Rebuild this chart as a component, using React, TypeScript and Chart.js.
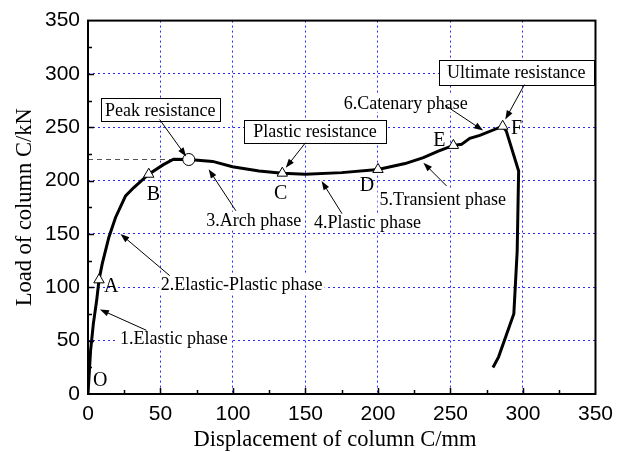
import { useEffect, useRef } from "react";
import { Chart, registerables } from "chart.js";

Chart.register(...registerables);

// Load–displacement response of column C (displacement in mm, load in kN)
const displacement = [
  0, 1.8, 3.7, 6, 7.6, 9.8, 14.4, 19, 25.9, 31.6, 41.9, 52, 59, 69.5, 86, 99.6, 118, 134, 150, 175, 200,
  218.7, 231.3, 241.6, 252, 257.6, 263.3, 270.2, 286, 288.5, 297, 296, 293.7, 283.2, 279.3,
];
const load = [
  0, 41, 66, 88, 107, 122, 147, 165.5, 185.7, 193.5, 206, 215, 220, 219.8, 218, 213, 209, 207, 206, 207.5, 210.5,
  216, 221.5, 227.7, 233, 234, 239.6, 242.4, 251, 246.4, 209, 134, 75.3, 34.8, 24.9,
];

// Characteristic points A–F and the peak
const keyNames = ["A", "B", "C", "D", "E", "F"];
const keyDisp = [7.6, 41.9, 134, 200, 252, 286];
const keyLoad = [107, 206, 207, 210.5, 233, 251];
const peakDisp = 69.5;
const peakLoad = 219.8;

// Axis ticks
const axisMin = 0;
const axisMax = 350;
const majorStep = 50;
const minorStep = 25;

const SERIF = "'Liberation Serif', 'Times New Roman', serif";
const SANS = "'Liberation Sans', Arial, sans-serif";

// Annotation placement, in axis units
const pointLetters = [
  { t: "O", x: 3.4, y: 7.5 },
  { t: "A", x: 11, y: 96 },
  { t: "B", x: 40.5, y: 182 },
  { t: "C", x: 128.3, y: 183 },
  { t: "D", x: 187.4, y: 190.4 },
  { t: "E", x: 238.1, y: 232.4 },
  { t: "F", x: 291.7, y: 243.6 },
];

const phaseNotes = [
  { t: "1.Elastic phase", x: 22, y: 52, from: [40.3, 59.7], to: [8.2, 79.3] },
  { t: "2.Elastic-Plastic phase", x: 50.1, y: 103.3, from: [56.3, 111], to: [22.4, 150] },
  { t: "3.Arch phase", x: 81.5, y: 162.4, from: [102, 171.7], to: [83.2, 210.6] },
  { t: "4.Plastic phase", x: 155.8, y: 160.8, from: [175.2, 169], to: [161.1, 199.7] },
  { t: "5.Transient phase", x: 201.1, y: 182.7, from: [247.3, 195], to: [231.3, 216.8] },
  { t: "6.Catenary phase", x: 176.4, y: 272.8, from: [246.2, 270.7], to: [272.5, 247] },
];

const boxNotes = [
  { t: "Peak resistance", x: 49.8, y: 266.4, w: 119, h: 23, from: [49.4, 257.3], to: [67.7, 222.7] },
  { t: "Plastic resistance", x: 156.5, y: 245.9, w: 142, h: 23, from: [150, 235.5], to: [136.4, 212] },
  { t: "Ultimate resistance", x: 295.3, y: 301.7, w: 155, h: 25, from: [301, 290], to: [287.8, 257.3] },
];

function drawArrow(ctx: CanvasRenderingContext2D, x1: number, y1: number, x2: number, y2: number) {
  const a = Math.atan2(y2 - y1, x2 - x1);
  const L = 9;
  const W = 3.2;
  const c = Math.cos(a);
  const s = Math.sin(a);
  ctx.beginPath();
  ctx.moveTo(x1, y1);
  ctx.lineTo(x2 - c * L * 0.7, y2 - s * L * 0.7);
  ctx.stroke();
  ctx.beginPath();
  ctx.moveTo(x2, y2);
  ctx.lineTo(x2 - c * L + s * W, y2 - s * L - c * W);
  ctx.lineTo(x2 - c * L - s * W, y2 - s * L + c * W);
  ctx.closePath();
  ctx.fill();
}

const annotations = {
  id: "annotations",
  afterDatasetsDraw(chart: any) {
    const { ctx, scales } = chart;
    const X = (v: number) => scales.x.getPixelForValue(v);
    const Y = (v: number) => scales.y.getPixelForValue(v);
    ctx.save();
    ctx.fillStyle = "#000";
    ctx.strokeStyle = "#000";
    ctx.lineWidth = 1;

    // phase labels on white ground
    ctx.font = `18px ${SERIF}`;
    ctx.textBaseline = "middle";
    ctx.textAlign = "left";
    for (const n of phaseNotes) {
      const w = ctx.measureText(n.t).width;
      ctx.fillStyle = "#fff";
      ctx.fillRect(X(n.x) - 2, Y(n.y) - 9, w + 4, 18);
      ctx.fillStyle = "#000";
      ctx.fillText(n.t, X(n.x), Y(n.y) + 1);
    }
    for (const n of phaseNotes) drawArrow(ctx, X(n.from[0]), Y(n.from[1]), X(n.to[0]), Y(n.to[1]));

    // boxed resistance labels
    ctx.textAlign = "center";
    for (const b of boxNotes) {
      const cx = X(b.x);
      const cy = Y(b.y);
      const l = Math.round(cx - b.w / 2) + 0.5;
      const t = Math.round(cy - b.h / 2) + 0.5;
      ctx.fillStyle = "#fff";
      ctx.fillRect(l, t, b.w, b.h);
      ctx.strokeRect(l, t, b.w, b.h);
      ctx.fillStyle = "#000";
      ctx.fillText(b.t, cx, cy + 1);
      drawArrow(ctx, X(b.from[0]), Y(b.from[1]), X(b.to[0]), Y(b.to[1]));
    }

    // point letters
    ctx.font = `20px ${SERIF}`;
    ctx.textAlign = "left";
    ctx.textBaseline = "alphabetic";
    for (const p of pointLetters) ctx.fillText(p.t, X(p.x), Y(p.y));
    ctx.restore();
  },
  afterDraw(chart: any) {
    const { ctx, chartArea: a, scales } = chart;
    ctx.save();
    ctx.strokeStyle = "#000";
    // frame
    ctx.lineWidth = 2;
    ctx.strokeRect(a.left, a.top, a.right - a.left, a.bottom - a.top);
    // inward ticks on the bottom and left axes
    ctx.lineWidth = 1.5;
    ctx.beginPath();
    for (let v = axisMin + minorStep; v < axisMax; v += minorStep) {
      const len = v % majorStep === 0 ? 6 : 4;
      const x = Math.round(scales.x.getPixelForValue(v)) + 0.5;
      ctx.moveTo(x, a.bottom);
      ctx.lineTo(x, a.bottom - len);
      const y = Math.round(scales.y.getPixelForValue(v)) + 0.5;
      ctx.moveTo(a.left, y);
      ctx.lineTo(a.left + len, y);
    }
    ctx.stroke();
    // axis titles
    ctx.fillStyle = "#000";
    ctx.font = `22.5px ${SERIF}`;
    ctx.textAlign = "center";
    ctx.textBaseline = "alphabetic";
    ctx.fillText("Displacement of column C/mm", 335, 446);
    ctx.translate(31, (a.top + a.bottom) / 2);
    ctx.rotate(-Math.PI / 2);
    ctx.fillText("Load of column C/kN", 0, 0);
    ctx.restore();
  },
};

export default function App() {
  const ref = useRef<HTMLCanvasElement>(null);

  useEffect(() => {
    if (!ref.current) return;
    const curve = displacement.map((d, i) => ({ x: d, y: load[i] }));
    const keys = keyDisp.map((d, i) => ({ x: d, y: keyLoad[i], name: keyNames[i] }));

    const gridColor = (c: any) =>
      c.tick && (c.tick.value === axisMin || c.tick.value === axisMax) ? "rgba(0,0,0,0)" : "#2a2aff";

    const axis = (fitProp: "width" | "height", size: number) => ({
      type: "linear" as const,
      min: axisMin,
      max: axisMax,
      afterFit: (s: any) => {
        s[fitProp] = size;
      },
      ticks: {
        stepSize: majorStep,
        padding: 8,
        color: "#000",
        font: { family: SANS, size: 21 },
      },
      grid: { color: gridColor, lineWidth: 1, drawTicks: false },
      border: { display: false, dash: [2, 3] },
    });

    const chart = new Chart(ref.current, {
      type: "scatter",
      data: {
        datasets: [
          {
            data: keys,
            pointStyle: "triangle",
            pointRadius: 6,
            pointBackgroundColor: "#fff",
            pointBorderColor: "#000",
            pointBorderWidth: 1,
            showLine: false,
            order: 0,
          },
          {
            data: [{ x: peakDisp, y: peakLoad }],
            pointStyle: "circle",
            pointRadius: 6,
            pointBackgroundColor: "#fff",
            pointBorderColor: "#000",
            pointBorderWidth: 1,
            showLine: false,
            order: 0,
          },
          {
            data: curve,
            showLine: true,
            borderColor: "#000",
            borderWidth: 3,
            pointRadius: 0,
            tension: 0,
            order: 1,
          },
          {
            data: [
              { x: 0, y: peakLoad },
              { x: 62, y: peakLoad },
            ],
            showLine: true,
            borderColor: "#555",
            borderWidth: 1,
            borderDash: [5, 4],
            pointRadius: 0,
            order: 2,
          },
        ],
      },
      options: {
        animation: false,
        responsive: false,
        devicePixelRatio: 1,
        layout: { autoPadding: false, padding: { top: 19, right: 23, left: 0, bottom: 0 } },
        plugins: { legend: { display: false }, tooltip: { enabled: false } },
        scales: {
          x: { ...axis("height", 58), position: "bottom" },
          y: { ...axis("width", 88), position: "left" },
        },
      },
      plugins: [annotations],
    });
    return () => chart.destroy();
  }, []);

  return (
    <div style={{ position: "fixed", left: 0, top: 0, width: 621, height: 452, background: "#fff" }}>
      <canvas ref={ref} width={621} height={452} style={{ display: "block" }} />
    </div>
  );
}
